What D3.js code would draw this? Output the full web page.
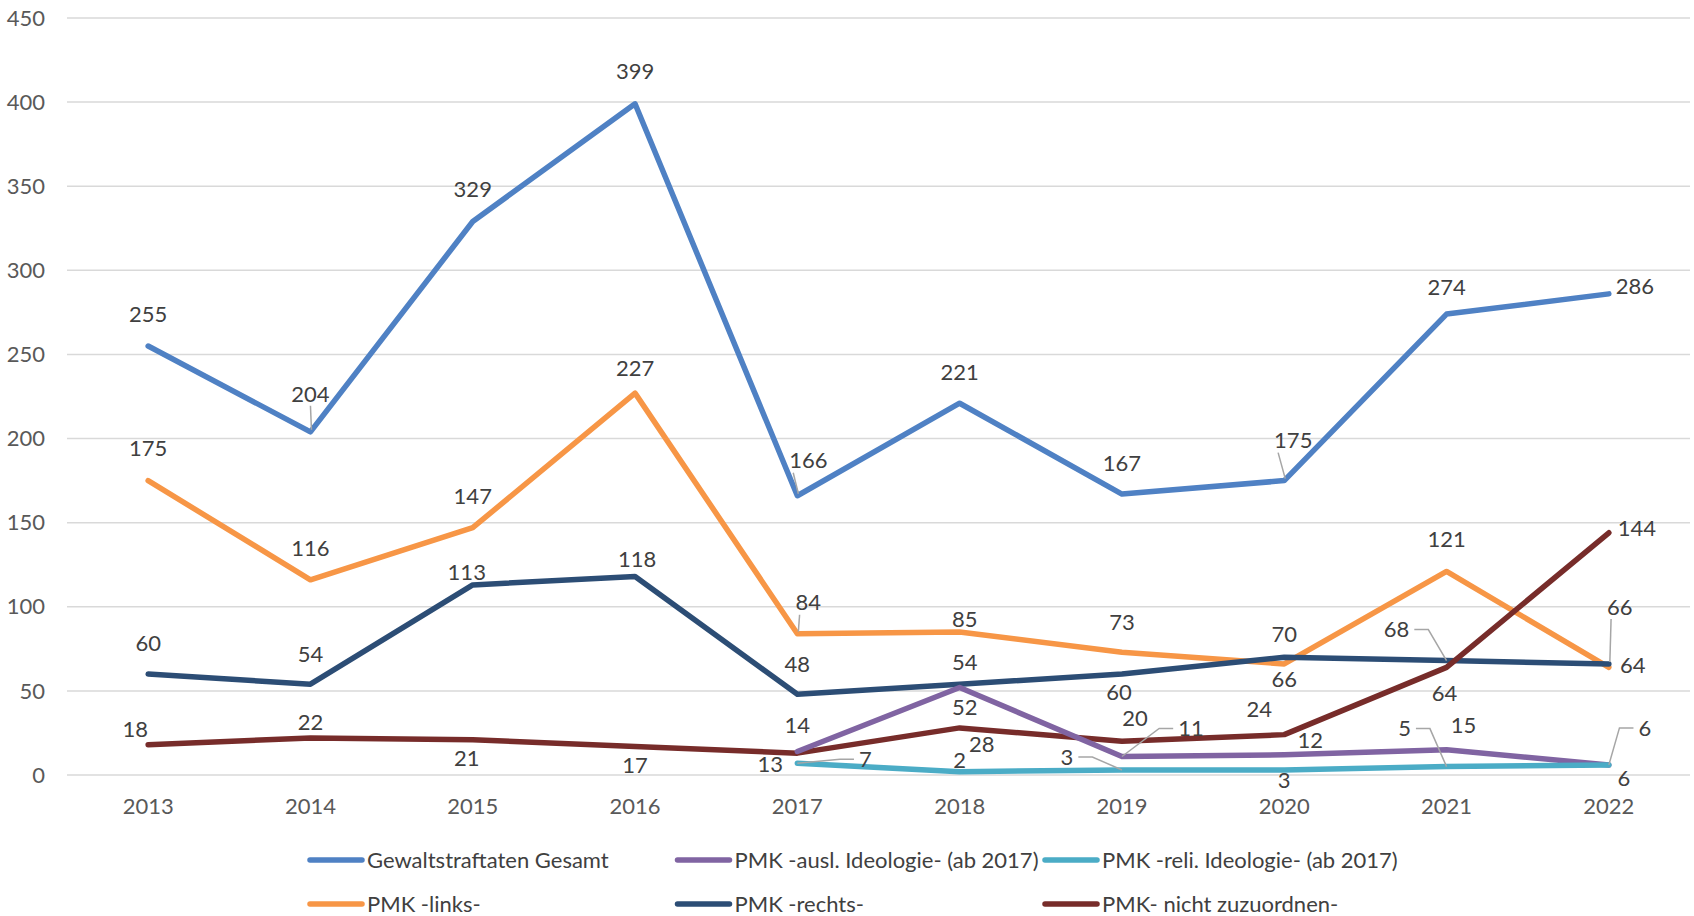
<!DOCTYPE html>
<html>
<head>
<meta charset="utf-8">
<script src="https://cdn.jsdelivr.net/npm/d3@7"></script>
<style>
  body { margin: 0; background: #fff; }
  text { font-family: Lato, "Open Sans", sans-serif; }
</style>
</head>
<body>
<svg id="chart"></svg>
<script>
// categories
var years = [2013, 2014, 2015, 2016, 2017, 2018, 2019, 2020, 2021, 2022];

// series values (null = no data)
var gesamt = [255, 204, 329, 399, 166, 221, 167, 175, 274, 286];
var links = [175, 116, 147, 227, 84, 85, 73, 66, 121, 64];
var rechts = [60, 54, 113, 118, 48, 54, 60, 70, 68, 66];
var nichtZuzuordnen = [18, 22, 21, 17, 13, 28, 20, 24, 64, 144];
var auslIdeologie = [null, null, null, null, 14, 52, 11, 12, 15, 6];
var reliIdeologie = [null, null, null, null, 7, 2, 3, 3, 5, 6];

var yTicks = [0, 50, 100, 150, 200, 250, 300, 350, 400, 450];

var seriesNames = [
    'Gewaltstraftaten Gesamt',
    'PMK -ausl. Ideologie- (ab 2017)',
    'PMK -reli. Ideologie- (ab 2017)',
    'PMK -links-',
    'PMK -rechts-',
    'PMK- nicht zuzuordnen-'
];
var seriesValues = [gesamt, auslIdeologie, reliIdeologie, links, rechts, nichtZuzuordnen];
var seriesColors = ['#4f81c4', '#8064a2', '#4bacc6', '#f79646', '#2c4d75', '#772c2a'];

// label placement per series: [dx, dy, leader]
var labelOffsets = [
    [[0,-32],[0,-38,1],[0,-32],[0,-32],[11,-35,1],[0,-31],[0,-31],[9,-40,1],[0,-27],[26,-8]],
    [null,null,null,null,[0,-26],[5,20],[69,-28,1],[26,-15],[17,-24],[36,-37,1]],
    [null,null,null,null,[68,-4,1],[0,-11],[-55,-13,1],[0,10],[-42,-38,1],[15,13]],
    [[0,-32],[0,-32],[0,-31],[0,-25],[11,-31,1],[5,-13],[0,-30],[0,15],[0,-32],[24,-2]],
    [[0,-31],[0,-30],[-6,-13],[2,-17],[0,-30],[5,-22],[-3,18],[0,-23],[-50,-31,1],[11,-57,1]],
    [[-13,-15],[0,-16],[-6,19],[0,19],[-27,11],[22,16],[13,-23],[-25,-25],[-2,26],[28,-4]]
];

// drawing order (index into series arrays)
var drawOrder = [0, 3, 4, 5, 1, 2];

const width = 1694;
const height = 916;
const fontSize = 22;

const svg = d3.select('#chart')
    .attr('width', width)
    .attr('height', height);

var x = d3.scaleBand()
    .domain(years)
    .range([67, 1690]);

var y = d3.scaleLinear()
    .domain([0, 450])
    .range([775, 18]);

function cx(year) { return x(year) + x.bandwidth() / 2; }

// gridlines
svg.append('g')
    .selectAll('line')
    .data(yTicks)
    .join('line')
    .attr('x1', 67)
    .attr('x2', 1690)
    .attr('y1', d => y(d))
    .attr('y2', d => y(d))
    .attr('stroke', '#d9d9d9')
    .attr('stroke-width', 1.5);

// y axis labels
svg.append('g')
    .selectAll('text')
    .data(yTicks)
    .join('text')
    .attr('x', 45)
    .attr('y', d => y(d))
    .attr('dy', '0.35em')
    .attr('text-anchor', 'end')
    .style('font-size', fontSize + 'px')
    .attr('fill', '#595959')
    .text(d => d);

// x axis labels
svg.append('g')
    .selectAll('text')
    .data(years)
    .join('text')
    .attr('x', d => cx(d))
    .attr('y', 806)
    .attr('dy', '0.35em')
    .attr('text-anchor', 'middle')
    .style('font-size', fontSize + 'px')
    .attr('fill', '#595959')
    .text(d => d);

var line = d3.line()
    .defined(d => d.v !== null)
    .x(d => cx(d.year))
    .y(d => y(d.v));

drawOrder.forEach(function(s) {
    var pts = years.map((yr, i) => ({ year: yr, v: seriesValues[s][i] }));
    svg.append('path')
        .datum(pts)
        .attr('d', line)
        .attr('fill', 'none')
        .attr('stroke', seriesColors[s])
        .attr('stroke-width', 5.5)
        .attr('stroke-linejoin', 'round')
        .attr('stroke-linecap', 'round');
});

// data labels
var labelG = svg.append('g');
var leaderG = svg.append('g');
seriesValues.forEach(function(vals, s) {
    vals.forEach(function(v, i) {
        if (v === null) return;
        var off = labelOffsets[s][i];
        var px = cx(years[i]), py = y(v);
        var lx = px + off[0], ly = py + off[1];
        var t = labelG.append('text')
            .attr('x', lx)
            .attr('y', ly)
            .attr('dy', '0.35em')
            .attr('text-anchor', 'middle')
            .style('font-size', fontSize + 'px')
            .attr('fill', '#404040')
            .text(v);
        if (off[2]) {
            var w = t.node().getComputedTextLength();
            var pathPts;
            if (Math.abs(off[0]) > 30) {
                var side = off[0] > 0 ? -1 : 1;
                var ex = lx + side * (w / 2 + 5);
                pathPts = [[ex, ly], [ex + side * 14, ly], [px, py]];
            } else {
                pathPts = [[lx + (off[0] > 0 ? -w / 2 + 4 : 0), ly + 12], [px + 1, py - 2]];
            }
            leaderG.append('path')
                .attr('d', d3.line()(pathPts))
                .attr('fill', 'none')
                .attr('stroke', '#a6a6a6')
                .attr('stroke-width', 1.5);
        }
    });
});

// legend
var legend = svg.append('g');
seriesNames.forEach(function(name, i) {
    var col = i % 3, row = Math.floor(i / 3);
    var lx = 310 + col * 367.5;
    var ly = 860 + row * 44;
    legend.append('line')
        .attr('x1', lx)
        .attr('x2', lx + 52)
        .attr('y1', ly)
        .attr('y2', ly)
        .attr('stroke', seriesColors[i])
        .attr('stroke-width', 5.5)
        .attr('stroke-linecap', 'round');
    legend.append('text')
        .attr('x', lx + 57)
        .attr('y', ly)
        .attr('dy', '0.35em')
        .style('font-size', fontSize + 'px')
        .attr('fill', '#404040')
        .text(name);
});
</script>
</body>
</html>
